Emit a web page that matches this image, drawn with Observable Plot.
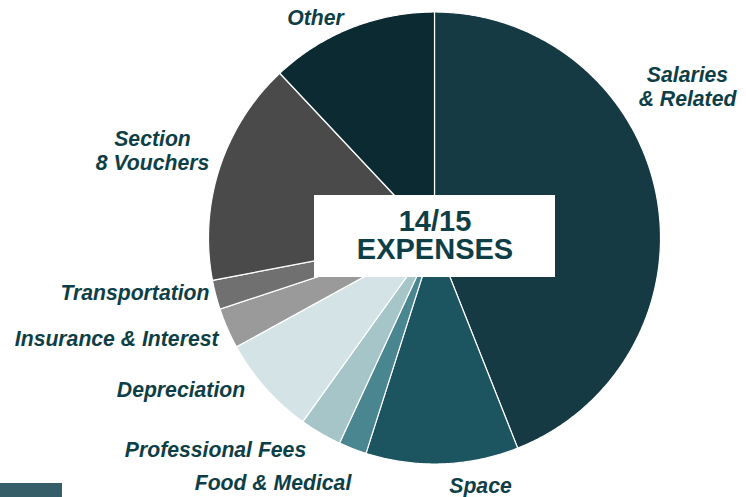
<!DOCTYPE html>
<html>
<head>
<meta charset="utf-8">
<script src="https://cdn.jsdelivr.net/npm/d3@7"></script>
<script src="https://cdn.jsdelivr.net/npm/@observablehq/plot@0.6"></script>
<style>
  html, body { margin: 0; padding: 0; background: #ffffff; }
  #chart svg { display: block; }
</style>
</head>
<body>
<div id="chart"></div>
<script>
// ---- data (percent of 14/15 expenses, clockwise from 12 o'clock) ----
const categories = ["Salaries & Related", "Space", "Food & Medical", "Professional Fees",
  "Depreciation", "Insurance & Interest", "Transportation", "Section 8 Vouchers", "Other"];
const values = [44.0, 10.9, 2.0, 3.0, 7.1, 2.9, 2.1, 16.0, 12.0];
const labelTexts = ["Salaries\n& Related", "Space", "Food & Medical", "Professional Fees",
  "Depreciation", "Insurance & Interest", "Transportation", "Section\n8 Vouchers", "Other"];
const centerTitle = "14/15\nEXPENSES";

// ---- styles / layout ----
const colors = ["#163a43", "#1c5460", "#4a8690", "#a5c5c9", "#d4e4e6", "#9a9a9a", "#707070", "#4a4a4a", "#0b2a32"];
const textColor = "#0e3e46";
const W = 746, H = 497;
const cx = 434, cy = 237.5, R = 226;
// label anchor positions in pixels, separate from the data
const labelLayout = [
  {x: 687, y: 86, anchor: "middle"},
  {x: 480, y: 485, anchor: "middle"},
  {x: 272.5, y: 481.5, anchor: "middle"},
  {x: 215, y: 448.5, anchor: "middle"},
  {x: 180.5, y: 389, anchor: "middle"},
  {x: 218, y: 337.5, anchor: "end"},
  {x: 209, y: 291.5, anchor: "end"},
  {x: 152, y: 150, anchor: "middle"},
  {x: 315, y: 16.5, anchor: "middle"}
];

// ---- build slice polygons from the pie layout ----
const arcs = d3.pie().sort(null).value(d => d)(values);
const slicePts = [];
arcs.forEach((a, i) => {
  const n = Math.max(2, Math.ceil((a.endAngle - a.startAngle) / (Math.PI / 360)));
  slicePts.push({name: categories[i], color: colors[i], x: cx, y: cy});
  for (let k = 0; k <= n; k++) {
    const t = a.startAngle + (a.endAngle - a.startAngle) * k / n;
    slicePts.push({name: categories[i], color: colors[i], x: cx + R * Math.sin(t), y: cy - R * Math.cos(t)});
  }
  slicePts.push({name: categories[i], color: colors[i], x: cx, y: cy});
});

const labels = categories.map((c, i) => ({text: labelTexts[i], ...labelLayout[i]}));

const labelStyle = {
  fontSize: 21.2, fontWeight: "bold", fontStyle: "italic", fill: textColor, lineHeight: 1.13
};

const chart = Plot.plot({
  width: W, height: H,
  margin: 0,
  style: {background: "#ffffff", fontFamily: "'Liberation Sans', Arial, sans-serif"},
  x: {domain: [0, W], range: [0, W], axis: null},
  y: {domain: [0, H], range: [0, H], axis: null},
  color: {type: "identity"},
  marks: [
    Plot.line(slicePts, {x: "x", y: "y", z: "name", fill: "color", stroke: "#ffffff", strokeWidth: 1.2, curve: "linear"}),
    Plot.rect([0], {x1: cx - 120, x2: cx + 121, y1: cy - 42.5, y2: cy + 39.5, fill: "#ffffff"}),
    Plot.text([centerTitle], {x: cx + 0.5, y: cy - 2, text: d => d,
      fontSize: 29, fontWeight: "bold", fill: textColor, lineHeight: 0.98}),
    Plot.text(labels.filter(d => d.anchor === "middle"), {x: "x", y: "y", text: "text", textAnchor: "middle", ...labelStyle}),
    Plot.text(labels.filter(d => d.anchor === "end"), {x: "x", y: "y", text: "text", textAnchor: "end", ...labelStyle}),
    Plot.rect([0], {x1: 0, x2: 62, y1: 483, y2: H, fill: "#365e68"})
  ]
});
document.getElementById("chart").appendChild(chart);
</script>
</body>
</html>
